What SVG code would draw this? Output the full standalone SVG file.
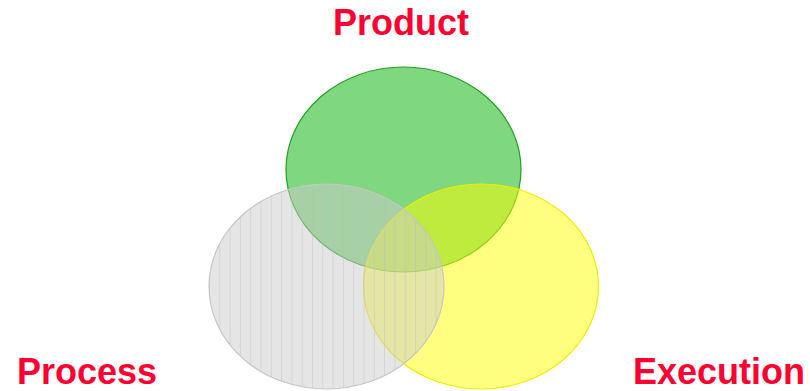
<svg xmlns="http://www.w3.org/2000/svg" width="810" height="391" viewBox="0 0 810 391">
<style>
.lbl{font-family:"Liberation Sans",Arial,sans-serif;font-weight:bold;font-size:36px;fill:#ff0033}
</style>
<defs>
<pattern id="stripes" patternUnits="userSpaceOnUse" x="209" y="0" width="10.3" height="10">
<rect width="10.3" height="10" fill="#cccccc" fill-opacity="0.5"/>
<rect x="0" width="1" height="10" fill="#bbbbbb" fill-opacity="0.4"/>
</pattern>
</defs>
<rect width="810" height="391" fill="#ffffff"/>
<g id="product">
<ellipse cx="403.5" cy="169.5" rx="117.5" ry="102.5" fill="#00b000" fill-opacity="0.5" stroke="#22a022" stroke-width="1.2"/>
</g>
<g id="execution">
<ellipse cx="481" cy="286.5" rx="117.5" ry="102.5" fill="#ffff00" fill-opacity="0.5" stroke="#eeee00" stroke-width="1.2"/>
</g>
<g id="process">
<ellipse cx="326.5" cy="286.5" rx="117.5" ry="102.5" fill="url(#stripes)" stroke="#c6c6c6" stroke-width="1.2"/>
</g>
<g id="connectors"/>
<g id="labels">
<text class="lbl" x="333" y="35">Product</text>
<text class="lbl" x="17" y="384">Process</text>
<text class="lbl" x="633" y="384">Execution</text>
</g>
</svg>
